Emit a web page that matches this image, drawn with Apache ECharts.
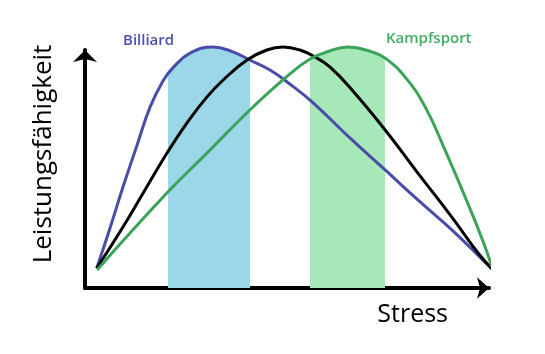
<!DOCTYPE html>
<html>
<head>
<meta charset="utf-8">
<script src="https://cdn.jsdelivr.net/npm/echarts@6/dist/echarts.min.js"></script>
<style>
html,body{margin:0;padding:0;background:#fff;}
#main{width:545px;height:354px;}
</style>
</head>
<body>
<div id="main"></div>
<script>
// Curve data: [stress, performance]
const billiard = [
  [2.9, 8.3], [6.2, 25.2], [9.4, 42.4], [12.9, 60.1], [16.1, 76.0], [19.3, 87.0],
  [21.8, 92.6], [26.0, 98.7], [31.7, 101.3], [36.6, 99.2], [40.8, 95.8], [45.8, 91.6],
  [50.7, 85.7], [56.2, 78.2], [66.1, 62.2], [74.3, 49.6], [82.4, 37.0], [90.8, 24.4],
  [99.0, 10.9], [101.0, 7.6]
];
const normal = [
  [2.9, 8.3], [9.4, 25.6], [14.4, 39.9], [20.3, 56.7], [25.2, 69.3], [30.2, 80.3],
  [34.2, 87.4], [40.1, 95.8], [45.0, 100.0], [49.0, 101.3], [53.2, 100.0], [56.9, 97.1],
  [60.6, 92.9], [66.1, 83.2], [74.3, 66.4], [82.4, 48.3], [90.8, 29.8], [97.3, 14.7],
  [101.0, 7.6]
];
const kampfsport = [
  [3.0, 7.6], [20.5, 40.3], [30.2, 56.7], [40.8, 74.8], [49.5, 88.2], [55.7, 96.2],
  [60.6, 99.6], [65.1, 101.3], [71.0, 99.2], [74.3, 96.6], [79.2, 88.7], [84.2, 76.1],
  [89.1, 58.0], [94.1, 38.2], [98.3, 20.6], [101.0, 7.6]
];
// Optimal zones (stress range)
const billiardZone = [20.5, 40.8];
const kampfsportZone = [55.7, 74.3];
const labels = { x: 'Stress', y: 'Leistungsfähigkeit', s1: 'Billiard', s2: 'Kampfsport' };

const chart = echarts.init(document.getElementById('main'), null, { renderer: 'canvas' });
const font = '"Open Sans", "Noto Sans", sans-serif';
const SM = 0.45;
chart.setOption({
  animation: false,
  backgroundColor: '#fff',
  grid: { left: 85, right: 56, top: 50, bottom: 66 },
  xAxis: {
    type: 'value', min: 0, max: 100,
    name: labels.x, nameLocation: 'end', nameGap: -41,
    nameTextStyle: { fontFamily: font, fontSize: 25, color: '#000', align: 'right', verticalAlign: 'top', padding: [14, 0, 0, 0] },
    axisLine: { lineStyle: { color: '#000', width: 4 }, symbol: ['none', 'arrow'], symbolSize: [16, 12] },
    axisTick: { show: false }, axisLabel: { show: false }, splitLine: { show: false }
  },
  yAxis: {
    type: 'value', min: 0, max: 100,
    axisLine: { lineStyle: { color: '#000', width: 4 }, symbol: ['none', 'arrow'], symbolSize: [18, 12] },
    axisTick: { show: false }, axisLabel: { show: false }, splitLine: { show: false }
  },
  visualMap: [
    { type: 'piecewise', show: false, seriesIndex: 0, dimension: 0,
      pieces: [{ gte: billiardZone[0], lte: billiardZone[1], color: '#9bd7e8' }],
      outOfRange: { color: 'rgba(255,255,255,0)' } },
    { type: 'piecewise', show: false, seriesIndex: 1, dimension: 0,
      pieces: [{ gte: kampfsportZone[0], lte: kampfsportZone[1], color: '#a6e8b8' }],
      outOfRange: { color: 'rgba(255,255,255,0)' } }
  ],
  graphic: [
    { type: 'text', x: 44, y: 154, rotation: Math.PI / 2,
      style: { text: labels.y, fontFamily: font, fontSize: 26, fill: '#000', align: 'center', verticalAlign: 'middle' } },
    { type: 'text', left: 123, top: 33, style: { text: labels.s1, fontFamily: font, fontSize: 15, fontWeight: 600, fill: '#4f4fb0' } },
    { type: 'text', left: 386, top: 31, style: { text: labels.s2, fontFamily: font, fontSize: 15, fontWeight: 600, fill: '#3fae62' } }
  ],
  series: [
    { type: 'line', data: billiard, smooth: SM, showSymbol: false, clip: false, z: 1,
      lineStyle: { width: 0 }, areaStyle: { opacity: 1 } },
    { type: 'line', data: kampfsport, smooth: SM, showSymbol: false, clip: false, z: 1,
      lineStyle: { width: 0 }, areaStyle: { opacity: 1 } },
    { type: 'line', data: billiard, smooth: SM, showSymbol: false, clip: false, z: 3,
      lineStyle: { color: '#4a4da8', width: 3 } },
    { type: 'line', data: normal, smooth: SM, showSymbol: false, clip: false, z: 3,
      lineStyle: { color: '#000', width: 3 } },
    { type: 'line', data: kampfsport, smooth: SM, showSymbol: false, clip: false, z: 3,
      lineStyle: { color: '#3aa35a', width: 3 } }
  ]
});
</script>
</body>
</html>
